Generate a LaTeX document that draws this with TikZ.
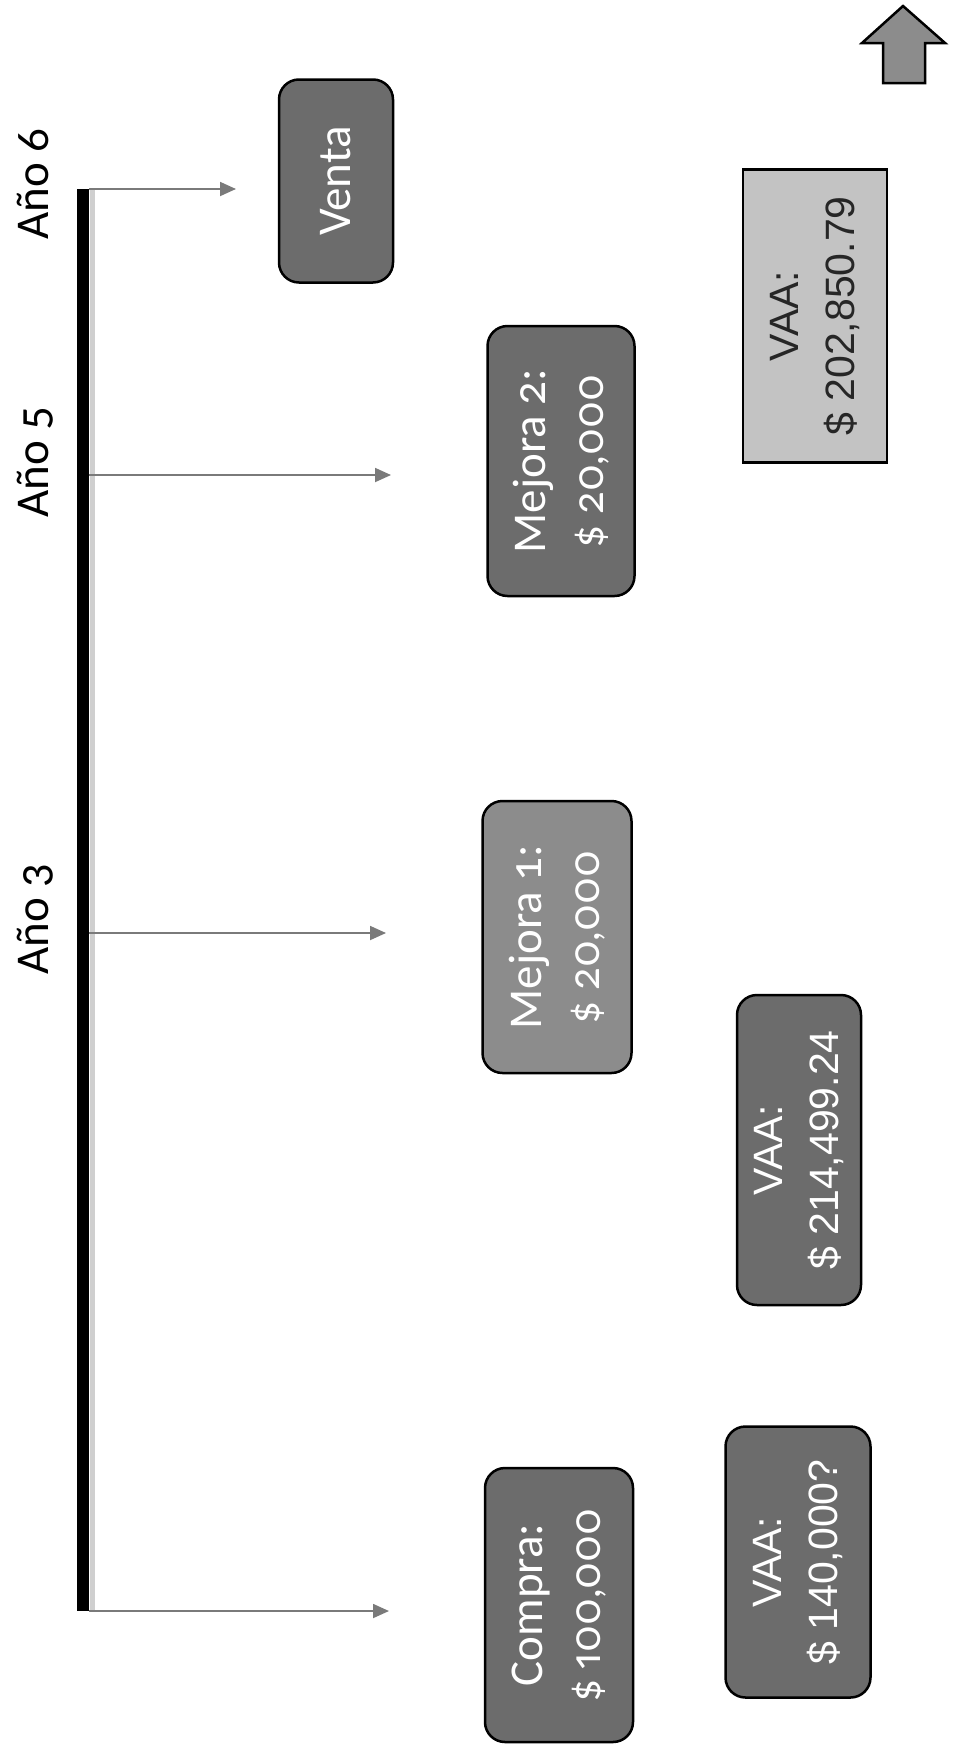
\documentclass[tikz,border=0pt]{standalone}
\usepackage{fontspec}
\usetikzlibrary{arrows.meta}
\newfontfamily\calfont[Numbers=OldStyle]{Carlito}
\newfontfamily\calnum[Numbers={OldStyle,Proportional},Scale=0.9]{Lato}
\newfontfamily\arfont{Liberation Sans}
\definecolor{boxdark}{HTML}{6C6C6C}
\definecolor{boxmid}{HTML}{8C8C8C}
\definecolor{boxlight}{HTML}{C3C3C3}
\definecolor{arrowgray}{HTML}{7A7A7A}
\definecolor{edgegray}{HTML}{CFCFCF}
\tikzset{
  box/.style={draw=black, line width=2.5pt, rounded corners=20pt, rotate=90,
    fill=boxdark, text=white, align=center, inner sep=0pt},
  calbox/.style={box, font=\calfont\fontsize{47}{58}\selectfont},
  arbox/.style={box, font=\arfont\fontsize{41}{56}\selectfont},
  lab/.style={rotate=90, anchor=base, inner sep=0pt, text=black,
    font=\calfont\fontsize{47}{57}\selectfont},
  conn/.style={draw=arrowgray, line width=1.8pt,
    -{Triangle[length=16pt,width=14pt,fill=arrowgray]}},
}
\begin{document}
\begin{tikzpicture}[x=1pt,y=-1pt]
\fill[white] (0,0) rectangle (957,1748);
\useasboundingbox (0,0) rectangle (957,1748);

% timeline
\coordinate (t6) at (83,189);
\coordinate (t0) at (83,1611);
\coordinate (g6) at (92,189);
\coordinate (g0) at (92,1611);
\draw[edgegray, line width=5pt] (g6) -- (g0);
\draw[black, line width=12pt] (t6) -- (t0);

% arrow start / end points
\coordinate (s6) at (89,189);  \coordinate (e6) at (236,189);
\coordinate (s5) at (89,475);  \coordinate (e5) at (391,475);
\coordinate (s3) at (89,933);  \coordinate (e3) at (386,933);
\coordinate (s0) at (89,1611); \coordinate (e0) at (389,1611);
\draw[conn] (s6) -- (e6);
\draw[conn] (s5) -- (e5);
\draw[conn] (s3) -- (e3);
\draw[conn] (s0) -- (e0);

% year labels
\node[lab] (l6) at (48,184) {Año 6};
\node[lab] (l5) at (48,462) {Año 5};
\node[lab] (l3) at (48,919) {Año 3};

% boxes
\node[calbox, minimum width=203pt, minimum height=114pt] (venta) at (336,181) {Venta};
\node[calbox, minimum width=270pt, minimum height=147pt] (mej2) at (561,461) {Mejora 2:\\{\calnum\$ 20,000}};
\node[calbox, fill=boxmid, minimum width=272pt, minimum height=149pt] (mej1) at (557,937) {Mejora 1:\\{\calnum\$ 20,000}};
\node[calbox, minimum width=274pt, minimum height=148pt] (compra) at (559,1605) {Compra:\\{\calnum\$ 100,000}};
\node[arbox, minimum width=310pt, minimum height=124pt] (vaa214) at (799,1150) {VAA:\\\$ 214,499.24};
\node[arbox, minimum width=271pt, minimum height=145pt] (vaa140) at (798,1562) {VAA:\\\$ 140,000?};
\node[arbox, rounded corners=0pt, fill=boxlight, text=black!85, minimum width=293pt, minimum height=144pt] (vaa202) at (815,316) {VAA:\\\$ 202,850.79};

% up arrow
\draw[fill=boxmid, draw=black, line width=2.5pt, line join=miter]
  (903,6) -- (945,43) -- (925,43) -- (925,83) -- (883,83) -- (883,43) -- (862,43) -- cycle;
\end{tikzpicture}
\end{document}
